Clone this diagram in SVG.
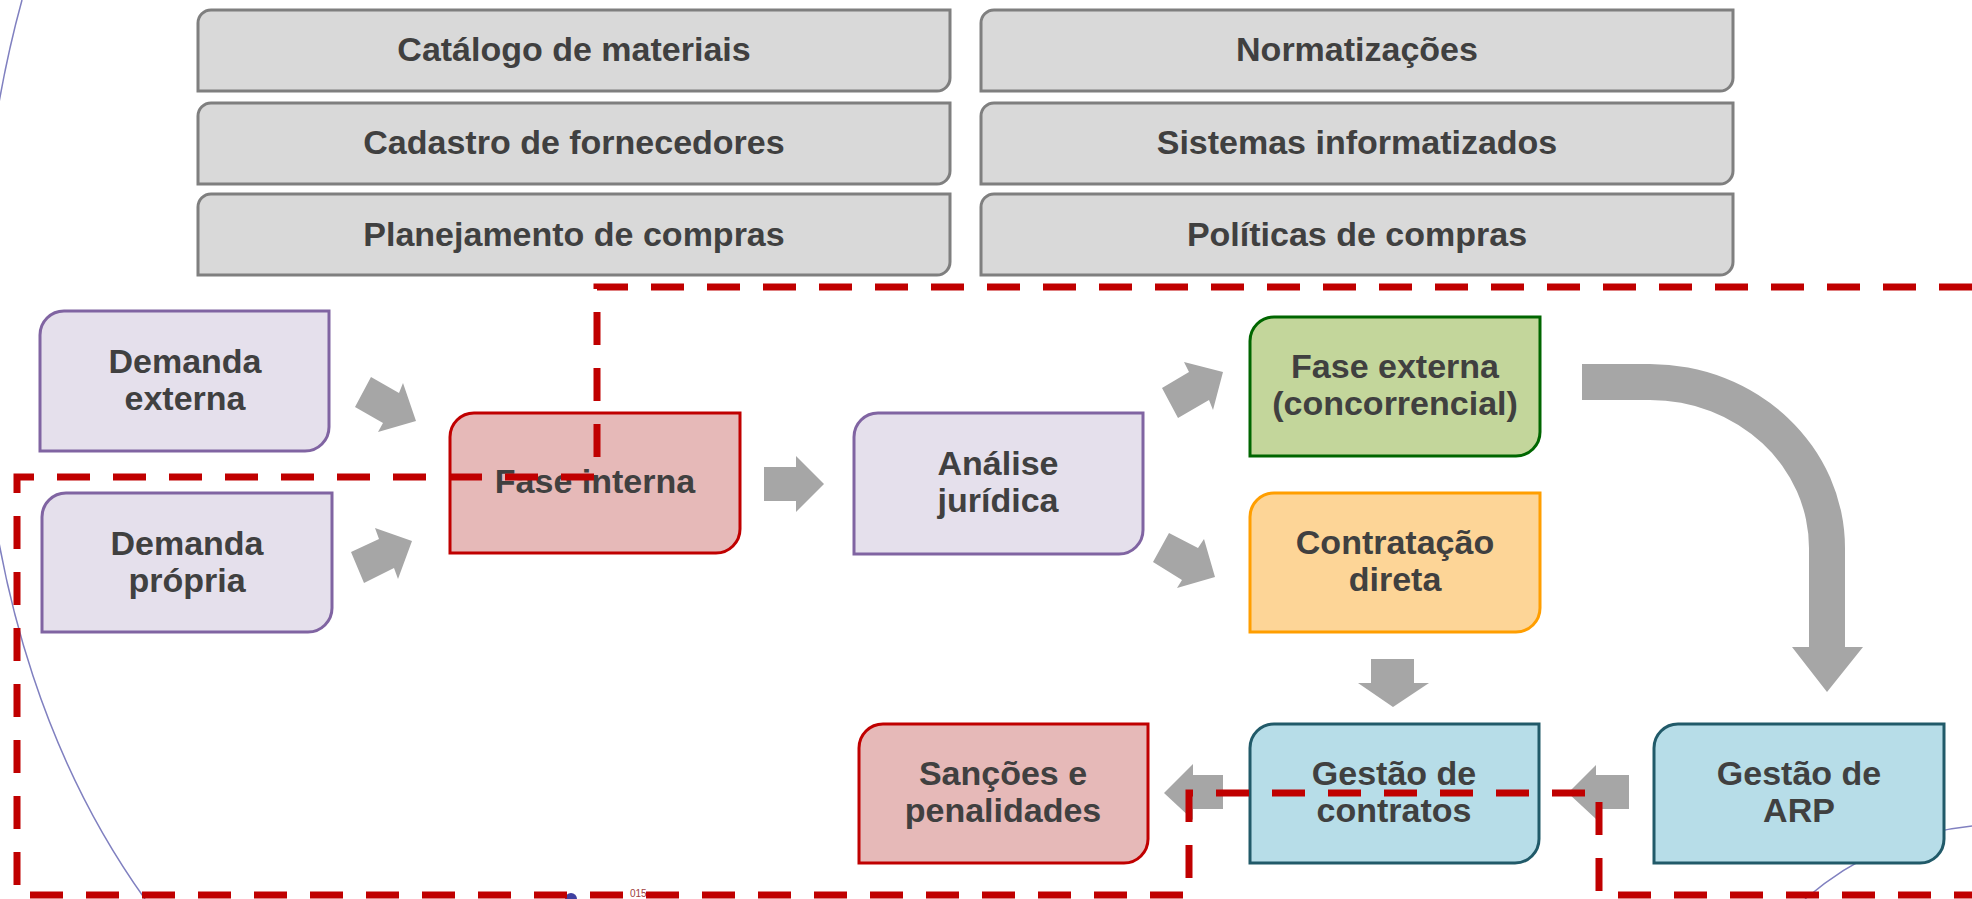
<svg xmlns="http://www.w3.org/2000/svg" width="1972" height="899" viewBox="0 0 1972 899">
<style>
.lbl{font-family:"Liberation Sans",Arial,sans-serif;font-weight:bold;font-size:34px;fill:#404040;text-anchor:middle}
.top{fill:#D9D9D9;stroke:#7F7F7F;stroke-width:3}
.lav{fill:#E5E0EC;stroke:#8064A2;stroke-width:3}
.red{fill:#E6B9B8;stroke:#C00000;stroke-width:3}
.grn{fill:#C3D69B;stroke:#006600;stroke-width:3}
.org{fill:#FDD597;stroke:#FF9E00;stroke-width:3}
.blu{fill:#B7DDE8;stroke:#215A69;stroke-width:3}
.arr{fill:#A6A6A6}
.deco{fill:none;stroke:#8080C0;stroke-width:1.5}
</style>
<rect width="1972" height="899" fill="#FFFFFF"/>
<g id="background">
<path class="deco" d="M22,0 C-44,240 -53,623 145,899"/>
<path class="deco" d="M1805,899 Q1880,835 1972,826"/>
<circle cx="571" cy="899" r="6" fill="#4040A0"/>
<text x="630" y="897" font-family="Liberation Sans,Arial,sans-serif" font-size="10" fill="#A04040">015</text>
</g>
<g id="top-boxes">
<g id="catalogo"><path class="top" d="M211,10 H950 V78 A13,13 0 0 1 937,91 H198 V23 A13,13 0 0 1 211,10 Z"/><text class="lbl" x="574" y="61">Catálogo de materiais</text></g>
<g id="cadastro"><path class="top" d="M211,103 H950 V171 A13,13 0 0 1 937,184 H198 V116 A13,13 0 0 1 211,103 Z"/><text class="lbl" x="574" y="154">Cadastro de fornecedores</text></g>
<g id="planejamento"><path class="top" d="M211,194 H950 V262 A13,13 0 0 1 937,275 H198 V207 A13,13 0 0 1 211,194 Z"/><text class="lbl" x="574" y="246">Planejamento de compras</text></g>
<g id="normatizacoes"><path class="top" d="M994,10 H1733 V78 A13,13 0 0 1 1720,91 H981 V23 A13,13 0 0 1 994,10 Z"/><text class="lbl" x="1357" y="61">Normatizações</text></g>
<g id="sistemas"><path class="top" d="M994,103 H1733 V171 A13,13 0 0 1 1720,184 H981 V116 A13,13 0 0 1 994,103 Z"/><text class="lbl" x="1357" y="154">Sistemas informatizados</text></g>
<g id="politicas"><path class="top" d="M994,194 H1733 V262 A13,13 0 0 1 1720,275 H981 V207 A13,13 0 0 1 994,194 Z"/><text class="lbl" x="1357" y="246">Políticas de compras</text></g>
</g>
<g id="connectors">
<polygon class="arr" points="371,377 399,393 403,383 416,421 378,432 383,423 355,407"/>
<polygon class="arr" points="351,552 379,539 375,528 412,541 398,579 394,568 364,583"/>
<polygon class="arr" points="764,467 796,467 796,456 824,484 796,512 796,501 764,501"/>
<polygon class="arr" points="1162,388 1189,372 1184,362 1223,372 1213,410 1209,400 1178,418"/>
<polygon class="arr" points="1169,533 1198,548 1204,539 1215,577 1177,588 1182,580 1153,562"/>
<polygon class="arr" points="1371,659 1414,659 1414,683 1429,683 1393,707 1358,683 1371,683"/>
<polygon class="arr" points="1223,775 1193,775 1193,764 1164,793 1193,820 1193,809 1223,809"/>
<polygon class="arr" points="1629,775 1596,775 1596,765 1568,793 1596,819 1596,809 1629,809"/>
<path class="arr" d="M1582,364 H1650 A195,184 0 0 1 1845,548 V647 H1863 L1827,692 L1792,647 H1809 V548 A159,148 0 0 0 1650,400 H1582 Z"/>
</g>
<g id="demanda-externa"><path class="lav" d="M64,311 H329 V427 A24,24 0 0 1 305,451 H40 V335 A24,24 0 0 1 64,311 Z"/><text class="lbl" x="185" y="373">Demanda</text><text class="lbl" x="185" y="410">externa</text></g>
<g id="demanda-propria"><path class="lav" d="M66,493 H332 V608 A24,24 0 0 1 308,632 H42 V517 A24,24 0 0 1 66,493 Z"/><text class="lbl" x="187" y="555">Demanda</text><text class="lbl" x="187" y="592">própria</text></g>
<g id="fase-interna"><path class="red" d="M474,413 H740 V529 A24,24 0 0 1 716,553 H450 V437 A24,24 0 0 1 474,413 Z"/><text class="lbl" x="595" y="493">Fase interna</text></g>
<g id="analise-juridica"><path class="lav" d="M878,413 H1143 V530 A24,24 0 0 1 1119,554 H854 V437 A24,24 0 0 1 878,413 Z"/><text class="lbl" x="998" y="475">Análise</text><text class="lbl" x="998" y="512">jurídica</text></g>
<g id="fase-externa"><path class="grn" d="M1274,317 H1540 V432 A24,24 0 0 1 1516,456 H1250 V341 A24,24 0 0 1 1274,317 Z"/><text class="lbl" x="1395" y="378">Fase externa</text><text class="lbl" x="1395" y="415">(concorrencial)</text></g>
<g id="contratacao-direta"><path class="org" d="M1274,493 H1540 V608 A24,24 0 0 1 1516,632 H1250 V517 A24,24 0 0 1 1274,493 Z"/><text class="lbl" x="1395" y="554">Contratação</text><text class="lbl" x="1395" y="591">direta</text></g>
<g id="sancoes"><path class="red" d="M883,724 H1148 V839 A24,24 0 0 1 1124,863 H859 V748 A24,24 0 0 1 883,724 Z"/><text class="lbl" x="1003" y="785">Sanções e</text><text class="lbl" x="1003" y="822">penalidades</text></g>
<g id="gestao-contratos"><path class="blu" d="M1274,724 H1539 V839 A24,24 0 0 1 1515,863 H1250 V748 A24,24 0 0 1 1274,724 Z"/><text class="lbl" x="1394" y="785">Gestão de</text><text class="lbl" x="1394" y="822">contratos</text></g>
<g id="gestao-arp"><path class="blu" d="M1678,724 H1944 V839 A24,24 0 0 1 1920,863 H1654 V748 A24,24 0 0 1 1678,724 Z"/><text class="lbl" x="1799" y="785">Gestão de</text><text class="lbl" x="1799" y="822">ARP</text></g>
<g id="boundary">
<polyline fill="none" stroke="#C00000" stroke-width="7" stroke-dasharray="33 23" points="1972,287 597,287 597,477 17,477 17,895 1189,895 1189,793 1599,793 1599,895 1972,895"/>
</g>
</svg>
